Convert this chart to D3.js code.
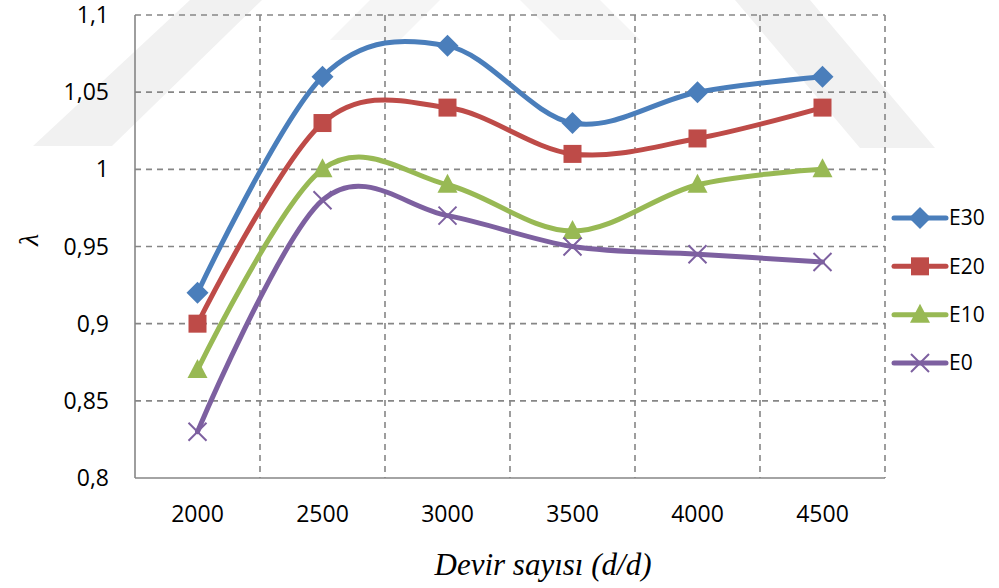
<!DOCTYPE html>
<html>
<head>
<meta charset="utf-8">
<script src="https://cdn.jsdelivr.net/npm/d3@7"></script>
<style>
  body { margin: 0; background: #fff; }
  svg { display: block; }
</style>
</head>
<body>
<div id="chart"></div>
<script>
// data
const rpm = ["2000", "2500", "3000", "3500", "4000", "4500"];
const e30 = [0.92, 1.06, 1.08, 1.03, 1.05, 1.06];
const e20 = [0.90, 1.03, 1.04, 1.01, 1.02, 1.04];
const e10 = [0.87, 1.00, 0.99, 0.96, 0.99, 1.00];
const e0 = [0.83, 0.98, 0.97, 0.95, 0.945, 0.94];
const yTicks = [0.8, 0.85, 0.9, 0.95, 1, 1.05, 1.1];
const names = ["E30", "E20", "E10", "E0"];

const series = [
  { name: names[0], values: e30, color: "#4a7ebb", marker: "diamond" },
  { name: names[1], values: e20, color: "#be4b48", marker: "square" },
  { name: names[2], values: e10, color: "#98b954", marker: "triangle" },
  { name: names[3], values: e0, color: "#7d60a0", marker: "cross" }
];

const W = 999, H = 588;
const pLeft = 135, pRight = 885, pTop = 15, pBottom = 478;

const svg = d3.select("#chart").append("svg").attr("width", W).attr("height", H);

// faint watermark in the background
const wm = svg.append("g").attr("fill", "#f1f1f1");
wm.append("path").attr("d", "M33,146 L112,146 L262,0 L190,0 Z");
wm.append("path").attr("d", "M330,40 L400,40 L440,0 L370,0 Z").attr("fill", "#f5f5f5");
wm.append("path").attr("d", "M520,0 L600,0 L640,40 L560,40 Z").attr("fill", "#f5f5f5");
wm.append("path").attr("d", "M735,0 L810,0 L935,148 L860,148 Z");

const x = d3.scaleBand().domain(rpm).range([pLeft, pRight]);
const y = d3.scaleLinear().domain([0.8, 1.1]).range([pBottom, pTop]);

const fmt = v => d3.format(".2~f")(v).replace(".", ",");

// grid
const grid = svg.append("g").attr("stroke", "#868686").attr("stroke-width", 1.6)
  .attr("stroke-dasharray", "6,5");
grid.selectAll(".hg").data(yTicks.slice(1)).enter().append("line")
  .attr("x1", pLeft).attr("x2", pRight)
  .attr("y1", d => y(d)).attr("y2", d => y(d));
grid.selectAll(".vg").data(rpm).enter().append("line")
  .attr("x1", d => x(d) + x.bandwidth()).attr("x2", d => x(d) + x.bandwidth())
  .attr("y1", pTop).attr("y2", pBottom);

// axes lines
svg.append("line").attr("x1", pLeft).attr("x2", pLeft).attr("y1", pTop).attr("y2", pBottom)
  .attr("stroke", "#868686").attr("stroke-width", 1.6);
svg.append("line").attr("x1", pLeft).attr("x2", pRight).attr("y1", pBottom).attr("y2", pBottom)
  .attr("stroke", "#868686").attr("stroke-width", 1.6);

// tick labels
svg.append("g").selectAll("text").data(yTicks).enter().append("text")
  .attr("x", 109).attr("y", d => y(d)).attr("dy", "0.35em")
  .attr("text-anchor", "end")
  .style("font-family", "Open Sans").style("font-size", "23px").style("fill", "#000")
  .text(fmt);

svg.append("g").selectAll("text").data(rpm).enter().append("text")
  .attr("x", d => x(d) + x.bandwidth() / 2).attr("y", 514).attr("dy", "0.35em")
  .attr("text-anchor", "middle")
  .style("font-family", "Open Sans").style("font-size", "23px").style("fill", "#000")
  .text(d => d);

// titles
svg.append("text").attr("x", 543).attr("y", 575).attr("text-anchor", "middle")
  .style("font-family", "Liberation Serif").style("font-style", "italic").style("font-size", "31px")
  .text("Devir sayısı (d/d)");
svg.append("text").attr("transform", "translate(38,240) rotate(-90)").attr("text-anchor", "middle")
  .style("font-family", "Liberation Serif").style("font-style", "italic").style("font-size", "28px")
  .text("λ");

const line = d3.line()
  .x((d, i) => x(rpm[i]) + x.bandwidth() / 2)
  .y(d => y(d))
  .curve(d3.curveCardinal.tension(0));

function drawMarker(g, type, color, cx, cy) {
  if (type === "diamond") {
    g.append("path").attr("d", `M${cx},${cy - 11}L${cx + 11},${cy}L${cx},${cy + 11}L${cx - 11},${cy}Z`)
      .attr("fill", color);
  } else if (type === "square") {
    g.append("rect").attr("x", cx - 9).attr("y", cy - 9).attr("width", 18).attr("height", 18)
      .attr("fill", color);
  } else if (type === "triangle") {
    g.append("path").attr("d", `M${cx},${cy - 11}L${cx + 10},${cy + 8}L${cx - 10},${cy + 8}Z`)
      .attr("fill", color);
  } else {
    g.append("path").attr("d", `M${cx - 9},${cy - 9}L${cx + 9},${cy + 9}M${cx - 9},${cy + 9}L${cx + 9},${cy - 9}`)
      .attr("stroke", color).attr("stroke-width", 2).attr("fill", "none");
  }
}

series.forEach(s => {
  const g = svg.append("g");
  g.append("path").datum(s.values).attr("d", line)
    .attr("fill", "none").attr("stroke", s.color).attr("stroke-width", 5)
    .attr("stroke-linecap", "round");
  s.values.forEach((v, i) => drawMarker(g, s.marker, s.color, x(rpm[i]) + x.bandwidth() / 2, y(v)));
});

// legend
const legY = d3.scalePoint().domain(names).range([218, 363]);
series.forEach(s => {
  const g = svg.append("g");
  const ly = legY(s.name);
  g.append("line").attr("x1", 894).attr("x2", 946).attr("y1", ly).attr("y2", ly)
    .attr("stroke", s.color).attr("stroke-width", 5).attr("stroke-linecap", "round");
  drawMarker(g, s.marker, s.color, 920, ly);
  g.append("text").attr("x", 949).attr("y", ly).attr("dy", "0.35em")
    .style("font-family", "Open Sans").style("font-size", "21px").text(s.name);
});
</script>
</body>
</html>
